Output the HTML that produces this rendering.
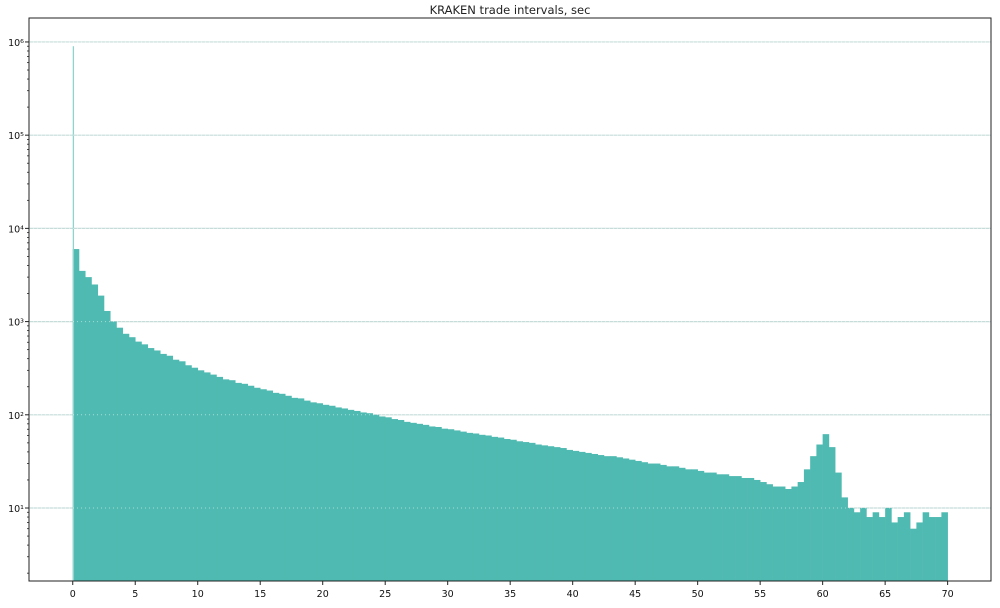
<!DOCTYPE html>
<html><head><meta charset="utf-8"><style>
body{margin:0;background:#fff;}
svg text{font-family:"DejaVu Sans","Liberation Sans",sans-serif;}
</style></head><body>
<svg id="chart" width="1000" height="603" viewBox="0 0 1000 603" xmlns="http://www.w3.org/2000/svg">
<text x="510" y="14" font-size="11.5" text-anchor="middle" fill="#222">KRAKEN trade intervals, sec</text>
<g id="grid"></g>
<g id="bars"></g>
<g id="grid2"></g>
<g id="axes"></g>
</svg>
<script>
const binStart = 0;
const binWidth = 0.5;
const counts = [6000,3500,3000,2500,1900,1300,1000,860,740,680,
610,570,520,490,450,430,390,375,340,320,
300,285,270,255,240,235,220,215,205,195,
188,182,172,168,160,152,150,142,136,133,
128,125,120,117,113,110,106,104,100,96,
94,90,88,84,82,80,78,75,74,71,
70,68,66,64,63,61,60,58,57,55,
54,52,51,50,48,47,46,45,44,42,
41,40,39,38,37,36,36,35,34,33,
32,31,30,30,29,28,28,27,26,26,
25,24,24,23,23,22,22,21,21,20,
19,18,17,17,16,17,19,26,36,48,
62,45,24,13,10,9,10,8,9,8,
10,7,8,9,6,7,9,8,8,9];
const spike = [0, 0.1, 900000];
const xTicks = [0,5,10,15,20,25,30,35,40,45,50,55,60,65,70];
const yTicks = [1,2,3,4,5,6];

const NS="http://www.w3.org/2000/svg";
const L=29,R=991,T=18,B=581;
const xMin=-3.5,xMax=73.47;
const yTopLog=6.257,yBotLog=0.217;
function X(v){return L+(v-xMin)/(xMax-xMin)*(R-L);}
function Y(v){const l=Math.log10(v);return T+(yTopLog-l)/(yTopLog-yBotLog)*(B-T);}
function mk(tag,attrs,parent){const e=document.createElementNS(NS,tag);for(const k in attrs)e.setAttribute(k,attrs[k]);parent.appendChild(e);return e;}
const grid=document.getElementById('grid'),bars=document.getElementById('bars'),grid2=document.getElementById('grid2'),axes=document.getElementById('axes');
yTicks.forEach(p=>{
  const y=Y(Math.pow(10,p));
  const g=mk('line',{x1:L,x2:R,y1:y,y2:y,stroke:'#c5dcd9','stroke-width':1.2},grid);
  
  
  const g2=mk('line',{x1:L,x2:R,y1:y,y2:y,stroke:'#ffffff','stroke-width':1,'stroke-dasharray':'1,3',opacity:0.5},grid2);
  
  
});
counts.forEach((c,i)=>{
  const x0=X(binStart+i*binWidth),x1=X(binStart+(i+1)*binWidth);
  const y=Y(c);
  const r=mk('rect',{x:x0,y:y,width:x1-x0+0.3,height:B-y,fill:'#4fbab1'},bars);
  
  
});
{
  const x0=X(spike[0]),x1=X(spike[1]);const y=Y(spike[2]);
  const r=mk('rect',{x:x0,y:y,width:Math.max(1.3,x1-x0),height:B-y,fill:'#8fd3cc'},bars);
  
  
}
mk('rect',{x:L,y:T,width:R-L,height:B-T,fill:'none',stroke:'#222','stroke-width':1},axes);
xTicks.forEach(t=>{
  const x=X(t);
  mk('line',{x1:x,x2:x,y1:B,y2:B+4,stroke:'#222'},axes);
  const tx=mk('text',{x:x,y:B+16,'font-size':9.5,'text-anchor':'middle',fill:'#111'},axes);
  tx.textContent=t;
  
  
});
const sup={1:'¹',2:'²',3:'³',4:'⁴',5:'⁵',6:'⁶'};
yTicks.forEach(p=>{
  const y=Y(Math.pow(10,p));
  mk('line',{x1:L-4,x2:L,y1:y,y2:y,stroke:'#222'},axes);
  const tx=mk('text',{x:L-5,y:y+4,'font-size':9.5,'text-anchor':'end',fill:'#111'},axes);
  tx.textContent='10'+sup[p];
  
  
});
for(let p=0;p<=6;p++){for(let m=2;m<=9;m++){const v=m*Math.pow(10,p);const y=Y(v);if(y<T||y>B)continue;mk('line',{x1:L-2,x2:L,y1:y,y2:y,stroke:'#222','stroke-width':0.8},axes);}}
</script>
</body></html>
